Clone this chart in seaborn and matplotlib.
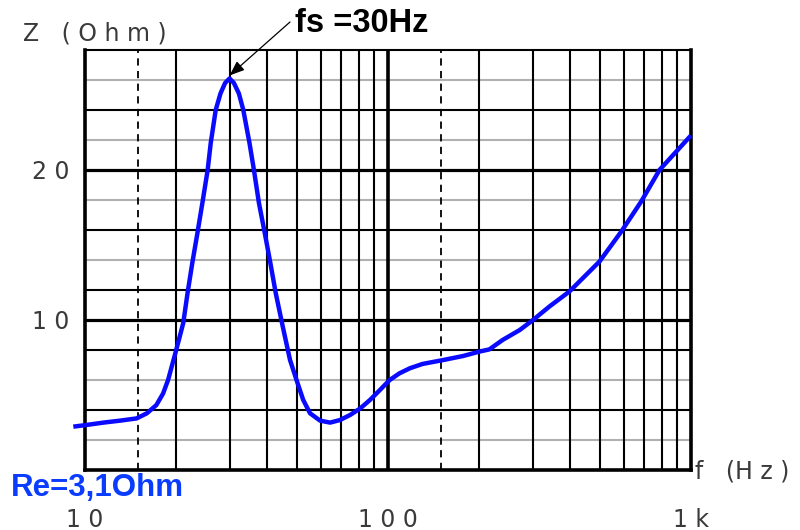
import numpy as np
import pandas as pd
import matplotlib
matplotlib.use("Agg")
import matplotlib.pyplot as plt
import seaborn as sns

# ---- data ----
freq_hz = [9.15, 10.1, 11.5, 13.05, 14.8, 16.0, 17.2, 18.1, 18.8, 20.0, 21.1, 21.8, 22.6,
           23.5, 24.4, 25.4, 26.0, 27.0, 28.0, 29.0, 30.0, 31.0, 32.2, 33.3, 34.9, 36.1,
           37.5, 39.2, 40.9, 42.6, 44.9, 47.5, 49.9, 52.5, 55.3, 59.7, 64.4, 69.4, 75.0,
           80.9, 87.2, 94.0, 101.3, 109, 118, 130, 152, 177, 200, 216, 239, 272, 301,
           341, 397, 499, 589, 685, 787, 989, 1000]
impedance_ohm = [2.89, 3.0, 3.16, 3.29, 3.44, 3.78, 4.33, 5.1, 6.0, 8.0, 9.8, 11.8, 13.8,
                 15.8, 17.8, 20.0, 21.8, 24.0, 25.1, 25.8, 26.1, 25.8, 25.1, 24.0, 21.8, 20.0,
                 17.8, 15.8, 13.8, 11.8, 9.6, 7.33, 6.0, 4.67, 3.78, 3.29, 3.16, 3.33, 3.67,
                 4.1, 4.67, 5.33, 6.0, 6.44, 6.78, 7.07, 7.33, 7.6, 7.89, 8.04, 8.67, 9.33, 10.0,
                 10.9, 11.9, 13.9, 15.9, 17.9, 20.0, 22.2, 22.3]

x_ticks = [10, 100, 1000]
x_tick_labels = ["1 0", "1 0 0", "1 k"]
y_ticks = [10, 20]
y_tick_labels = ["1 0", "2 0"]

v_solid = [20, 30, 40, 50, 60, 70, 80, 90, 200, 300, 400, 500, 600, 700, 800, 900]
v_dashed = [15, 150]
v_thick = [100]
h_black = [4, 8, 12, 16, 24]
h_thick = [10, 20]
h_gray = [2, 6, 14, 18, 22, 26]

df = pd.DataFrame({"f": freq_hz, "Z": impedance_ohm})

sns.set_style("white")
plt.rcParams["font.family"] = ["DejaVu Sans"]
BOLD = ["Liberation Sans", "DejaVu Sans"]
LABEL_COLOR = "#3a3a3a"

fig = plt.figure(figsize=(8, 5.3), dpi=100)
ax = fig.add_axes([0.10625, 0.1132, 0.7575, 0.7925])
ax.set_xscale("log")
ax.set_xlim(10, 1000)
ax.set_ylim(0, 28)

for v in h_gray:
    ax.axhline(v, color="#b0b0b0", lw=1.5, zorder=1)
for v in h_black:
    ax.axhline(v, color="black", lw=1.5, zorder=1)
for v in h_thick:
    ax.axhline(v, color="black", lw=2.3, zorder=1)
for v in v_solid:
    ax.axvline(v, color="black", lw=1.5, zorder=1)
for v in v_dashed:
    ax.axvline(v, color="black", lw=1.3, ls=(0, (4, 3)), zorder=1)
for v in v_thick:
    ax.axvline(v, color="black", lw=2.6, zorder=1)

sns.lineplot(data=df, x="f", y="Z", ax=ax, color="#0a0aff", lw=3.2,
             sort=False, estimator=None, zorder=3, clip_on=False)
for ln in ax.get_lines()[-1:]:
    ln.set_solid_joinstyle("round")
    ln.set_solid_capstyle("butt")

for side in ["left", "bottom", "right"]:
    ax.spines[side].set_visible(True)
    ax.spines[side].set_color("black")
    ax.spines[side].set_linewidth(2.6)
ax.spines["top"].set_visible(True)
ax.spines["top"].set_color("black")
ax.spines["top"].set_linewidth(1.5)

ax.set_xticks(x_ticks)
ax.set_xticklabels(x_tick_labels)
ax.xaxis.set_minor_locator(matplotlib.ticker.NullLocator())
ax.set_yticks(y_ticks)
ax.set_yticklabels(y_tick_labels)
ax.tick_params(axis="x", length=0, pad=27, labelsize=17, labelcolor=LABEL_COLOR)
ax.tick_params(axis="y", length=0, pad=11, labelsize=17, labelcolor=LABEL_COLOR)
ax.set_xlabel("")
ax.set_ylabel("")

fig.text(23 / 800, 1 - 34 / 530, "Z   ( O h m )", fontsize=17, color=LABEL_COLOR,
         ha="left", va="center")
fig.text(695 / 800, 1 - 471 / 530, "f   (H z )", fontsize=17, color=LABEL_COLOR,
         ha="left", va="center")

ax.annotate("", xy=(30, 26.3), xycoords="data",
            xytext=(290, 530 - 22), textcoords="figure pixels",
            arrowprops=dict(arrowstyle="-|>,head_length=0.9,head_width=0.35",
                            color="black", lw=0.9, shrinkA=0, shrinkB=0))
fig.text(295 / 800, 1 - 24 / 530, "fs =30Hz", fontsize=23.5, fontweight="bold",
         family=BOLD, color="black", ha="left", va="center")
fig.text(11 / 800, 1 - 488 / 530, "Re=3,1Ohm", fontsize=22.5, fontweight="bold",
         family=BOLD, color="#0a3cff", ha="left", va="center")

fig.savefig("out.png", dpi=100)
